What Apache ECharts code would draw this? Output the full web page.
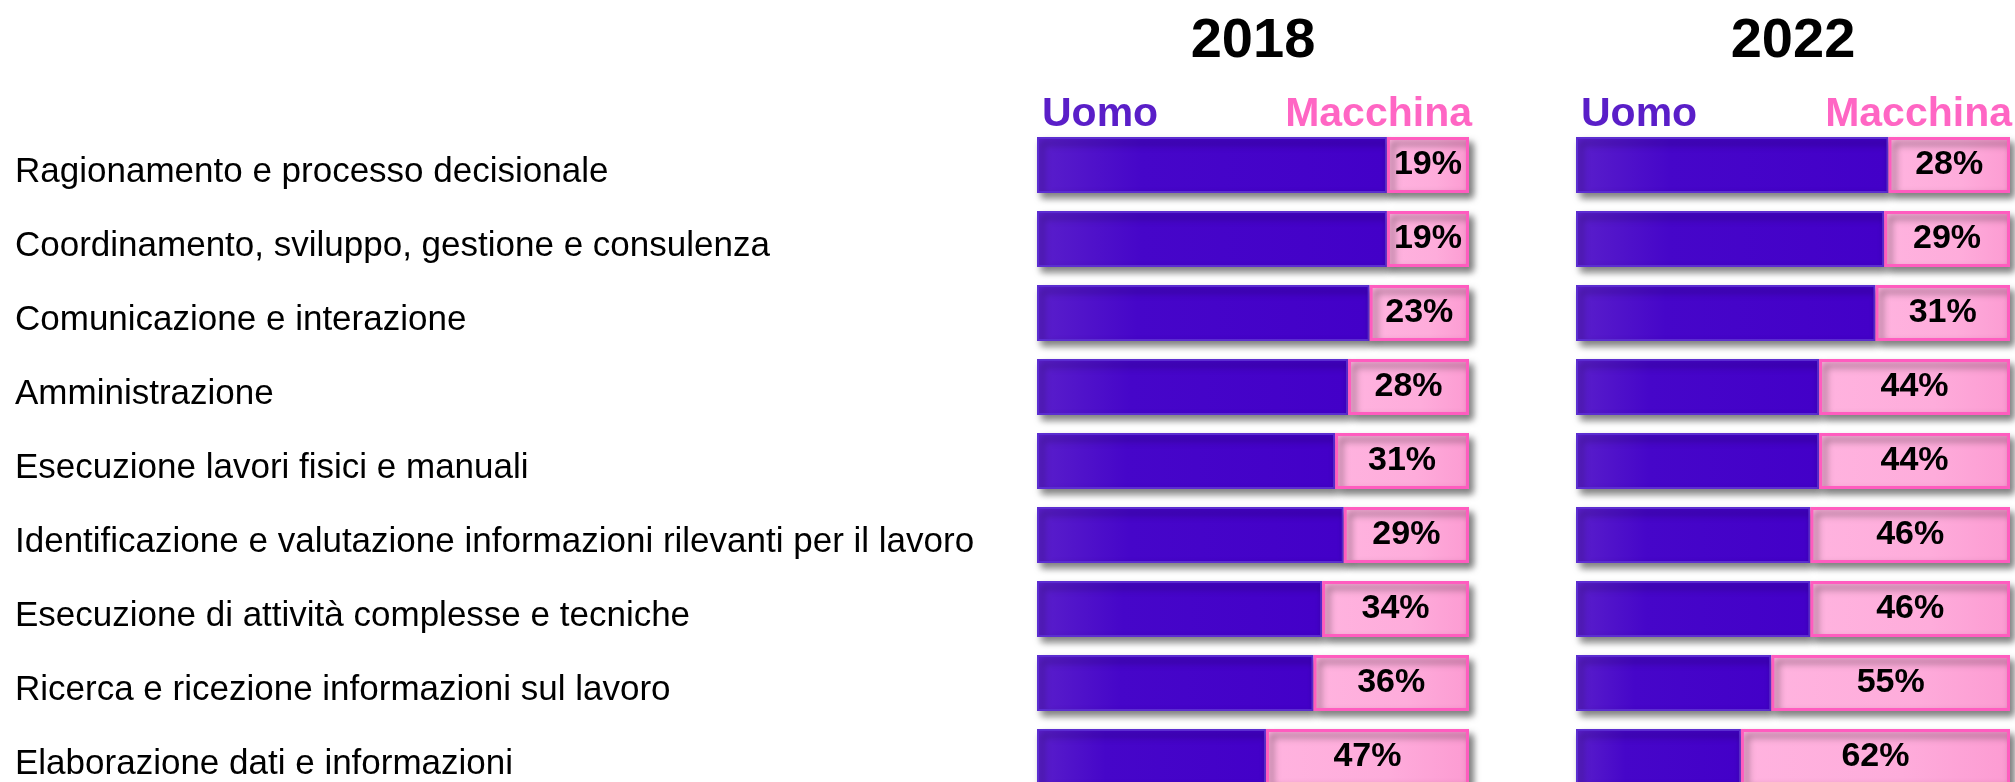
<!DOCTYPE html>
<html>
<head>
<meta charset="utf-8">
<script src="https://cdn.jsdelivr.net/npm/echarts@6/dist/echarts.min.js"></script>
<style>
  html, body { margin: 0; padding: 0; background: #fff; }
  #main { width: 2015px; height: 782px; }
</style>
</head>
<body>
<div id="main"></div>
<script>
// categorie (dall'alto in basso)
var categorie = [
  'Ragionamento e processo decisionale',
  'Coordinamento, sviluppo, gestione e consulenza',
  'Comunicazione e interazione',
  'Amministrazione',
  'Esecuzione lavori fisici e manuali',
  'Identificazione e valutazione informazioni rilevanti per il lavoro',
  'Esecuzione di attività complesse e tecniche',
  'Ricerca e ricezione informazioni sul lavoro',
  'Elaborazione dati e informazioni'
];
var anni = ['2018', '2022'];
// quota uomo / macchina in %
var uomo2018 = [81, 81, 77, 72, 69, 71, 66, 64, 53];
var macchina2018 = [19, 19, 23, 28, 31, 29, 34, 36, 47];
var uomo2022 = [72, 71, 69, 56, 56, 54, 54, 45, 38];
var macchina2022 = [28, 29, 31, 44, 44, 46, 46, 55, 62];

var viola = '#5a1ec8', rosa = '#ff66c4';

var myChart = echarts.init(document.getElementById('main'));

var ombra = {
  shadowColor: 'rgba(0,0,0,0.5)',
  shadowBlur: 7,
  shadowOffsetX: 4,
  shadowOffsetY: 5
};
var stileUomo = Object.assign({
  color: new echarts.graphic.LinearGradient(0, 0, 1, 0, [
    { offset: 0, color: '#5a1fcb' },
    { offset: 0.3, color: '#4606c9' },
    { offset: 1, color: '#4300c8' }
  ]),
  borderColor: '#5b2dd0',
  borderWidth: 2
}, ombra);
var stileMacchina = Object.assign({
  color: new echarts.graphic.LinearGradient(0, 0, 1, 0, [
    { offset: 0, color: '#ffb3df' },
    { offset: 0.6, color: '#feacdb' },
    { offset: 1, color: '#fc9bd2' }
  ]),
  borderColor: '#ff5cbf',
  borderWidth: 3
}, ombra);
var etichetta = {
  show: true,
  position: 'inside',
  formatter: '{c}%',
  color: '#000',
  fontFamily: 'Liberation Sans',
  fontWeight: 'bold',
  fontSize: 34
};

function asseX(i, nome) {
  return {
    gridIndex: i, type: 'value', min: 0, max: 100, position: 'top',
    name: nome, nameLocation: 'middle', nameGap: 58,
    nameTextStyle: { fontFamily: 'Liberation Sans', fontWeight: 'bold', fontSize: 56, color: '#000' },
    axisLine: { show: false }, axisTick: { show: false },
    axisLabel: { show: false }, splitLine: { show: false }
  };
}

function titolo(testo, pos, colore) {
  return Object.assign({
    text: testo, top: 94, padding: 0,
    textStyle: { fontFamily: 'Liberation Sans', fontWeight: 'bold', fontSize: 41, color: colore }
  }, pos);
}

myChart.setOption({
  animation: false,
  title: [
    titolo('Uomo', { left: 1042 }, viola),
    titolo('Macchina', { right: 2015 - 1472 }, rosa),
    titolo('Uomo', { left: 1581 }, viola),
    titolo('Macchina', { right: 2015 - 2012 }, rosa)
  ],
  grid: [
    { left: 1037, width: 432, top: 128, height: 666, outerBoundsMode: 'none', containLabel: false },
    { left: 1576, width: 434, top: 128, height: 666, outerBoundsMode: 'none', containLabel: false }
  ],
  xAxis: [asseX(0, anni[0]), asseX(1, anni[1])],
  yAxis: [
    {
      gridIndex: 0, type: 'category', inverse: true, data: categorie,
      axisLine: { show: false }, axisTick: { show: false },
      axisLabel: {
        align: 'left', margin: 1022,
        formatter: function (v) { return '{t|' + v + '}'; },
        rich: {
          t: { color: '#000', fontFamily: 'Liberation Sans', fontSize: 35, padding: [14, 0, 0, 0] }
        }
      }
    },
    {
      gridIndex: 1, type: 'category', inverse: true, data: categorie,
      axisLine: { show: false }, axisTick: { show: false }, axisLabel: { show: false }
    }
  ],
  series: [
    { name: 'Uomo', type: 'bar', stack: 'a', xAxisIndex: 0, yAxisIndex: 0,
      barWidth: 56, data: uomo2018, itemStyle: stileUomo },
    { name: 'Macchina', type: 'bar', stack: 'a', xAxisIndex: 0, yAxisIndex: 0,
      barWidth: 56, data: macchina2018, itemStyle: stileMacchina, label: etichetta },
    { name: 'Uomo', type: 'bar', stack: 'b', xAxisIndex: 1, yAxisIndex: 1,
      barWidth: 56, data: uomo2022, itemStyle: stileUomo },
    { name: 'Macchina', type: 'bar', stack: 'b', xAxisIndex: 1, yAxisIndex: 1,
      barWidth: 56, data: macchina2022, itemStyle: stileMacchina, label: etichetta }
  ]
});
</script>
</body>
</html>
